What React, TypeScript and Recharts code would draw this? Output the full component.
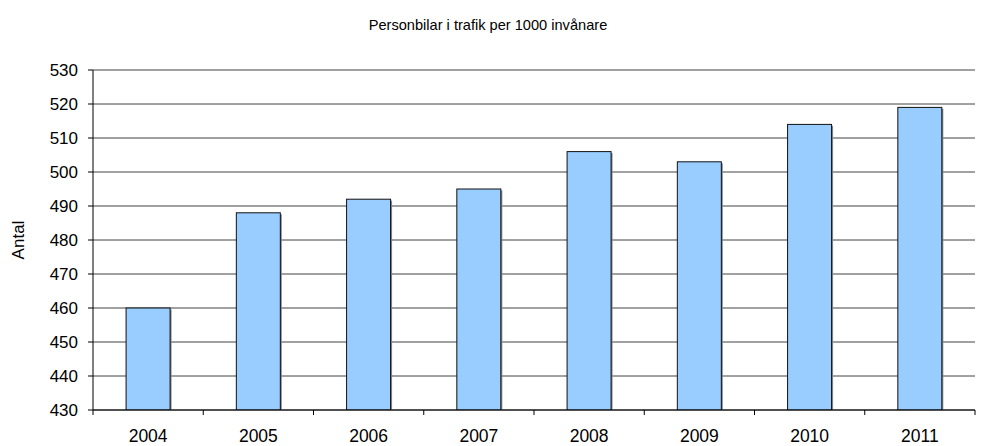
import { BarChart, Bar, XAxis, YAxis, CartesianGrid, Label } from 'recharts';

const years = ['2004', '2005', '2006', '2007', '2008', '2009', '2010', '2011'];
const cars = [460, 488, 492, 495, 506, 503, 514, 519];
const yTicks = [430, 440, 450, 460, 470, 480, 490, 500, 510, 520, 530];

const data = years.map((year, i) => ({ year, value: cars[i] }));

const W = 986;
const H = 446;
const M = { top: 70, right: 11, bottom: 0, left: 33 };
const Y_W = 60;
const STEP = (W - M.left - Y_W - M.right) / years.length;

const font = 'Liberation Sans, Arial, sans-serif';

function YearTick(props: any) {
  const { x, y, payload, index } = props;
  const last = index === years.length - 1;
  return (
    <g>
      <line x1={x - STEP / 2} x2={x - STEP / 2} y1={y - 8} y2={y - 3} stroke="#000" />
      {last && <line x1={x + STEP / 2} x2={x + STEP / 2} y1={y - 8} y2={y - 3} stroke="#000" />}
      <text x={x} y={y + 24} textAnchor="middle" fontSize={17.5} fontFamily={font} fill="#000">
        {payload.value}
      </text>
    </g>
  );
}

function ShadowBar(props: any) {
  const { x, y, width, height } = props;
  return (
    <g>
      <rect x={x + 1.5} y={y + 1.5} width={width} height={height} fill="#888" />
      <rect x={x} y={y} width={width} height={height} fill="#99ccff" stroke="#111" strokeWidth={1} />
    </g>
  );
}

export default function App() {
  return (
    <div style={{ position: 'absolute', left: 0, top: 0, width: W, height: H, background: '#fff' }}>
      <div
        style={{
          position: 'absolute',
          top: 18,
          left: 0,
          width: 976,
          textAlign: 'center',
          fontFamily: font,
          fontSize: 14.6,
          lineHeight: '15px',
        }}
      >
        Personbilar i trafik per 1000 invånare
      </div>
      <BarChart width={W} height={H} data={data} margin={M} barCategoryGap="30%">
        <CartesianGrid vertical={false} stroke="#222" strokeOpacity={0.85} />
        <XAxis
          dataKey="year"
          height={36}
          tickLine={false}
          axisLine={{ stroke: '#000' }}
          tick={<YearTick />}
          interval={0}
        />
        <YAxis
          width={Y_W}
          domain={[430, 530]}
          ticks={yTicks}
          interval={0}
          tickSize={5}
          tickMargin={10}
          allowDataOverflow
          axisLine={{ stroke: '#000' }}
          tickLine={{ stroke: '#000' }}
          tick={{ fill: '#000', fontSize: 17, fontFamily: font }}
        >
          <Label
            value="Antal"
            angle={-90}
            position="insideLeft"
            offset={-15}
            style={{ fill: '#000', fontSize: 17, fontFamily: font, textAnchor: 'middle' }}
          />
        </YAxis>
        <Bar dataKey="value" isAnimationActive={false} shape={<ShadowBar />} />
      </BarChart>
    </div>
  );
}
